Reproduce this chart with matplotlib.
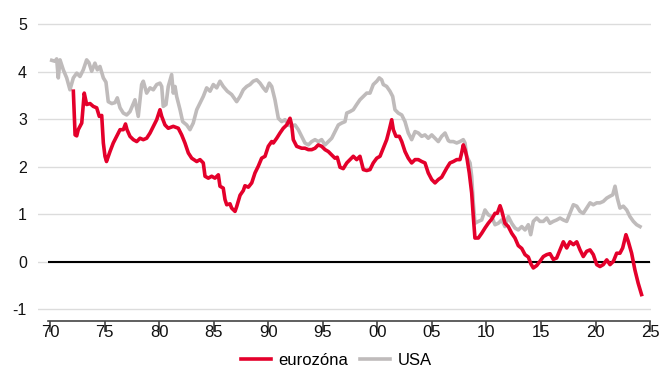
import matplotlib

matplotlib.use("Agg")

import matplotlib.pyplot as plt

plt.rcParams["font.family"] = ["Liberation Sans", "DejaVu Sans"]

# USA, decimal years and values
usa_years = [
    1970.16, 1970.46, 1970.61, 1970.76, 1970.92, 1971.22, 1971.53, 1971.83,
    1972.14, 1972.45, 1972.75, 1973.05, 1973.36, 1973.57, 1973.82, 1974.12,
    1974.34, 1974.58, 1974.89, 1975.13, 1975.34, 1975.66, 1975.96, 1976.17,
    1976.42, 1976.72, 1977.03, 1977.33, 1977.79, 1978.09, 1978.40, 1978.55,
    1978.86, 1979.17, 1979.47, 1979.78, 1980.08, 1980.24, 1980.38, 1980.63,
    1980.84, 1981.15, 1981.30, 1981.46, 1981.61, 1981.92, 1982.16, 1982.53,
    1982.83, 1983.13, 1983.45, 1983.75, 1984.05, 1984.36, 1984.67, 1984.97,
    1985.28, 1985.58, 1985.88, 1986.25, 1986.65, 1987.11, 1987.42, 1987.72,
    1988.03, 1988.33, 1988.63, 1988.95, 1989.25, 1989.55, 1989.80, 1990.10,
    1990.32, 1990.62, 1990.93, 1991.24, 1991.54, 1991.84, 1992.15, 1992.46,
    1992.76, 1993.07, 1993.37, 1993.68, 1993.99, 1994.29, 1994.59, 1994.90,
    1995.21, 1995.51, 1995.82, 1996.12, 1996.43, 1996.74, 1997.04, 1997.20,
    1997.50, 1997.80, 1998.11, 1998.41, 1998.72, 1999.03, 1999.33, 1999.63,
    1999.95, 2000.18, 2000.40, 2000.55, 2000.86, 2001.16, 2001.41, 2001.62,
    2001.92, 2002.24, 2002.54, 2002.84, 2003.15, 2003.46, 2003.76, 2004.07,
    2004.37, 2004.67, 2004.99, 2005.29, 2005.59, 2005.90, 2006.21, 2006.51,
    2006.66, 2006.97, 2007.28, 2007.58, 2007.88, 2008.04, 2008.19, 2008.50,
    2008.65, 2008.80, 2008.95, 2009.26, 2009.57, 2009.87, 2010.17, 2010.49,
    2010.79, 2011.09, 2011.40, 2011.70, 2012.01, 2012.32, 2012.62, 2012.92,
    2013.24, 2013.54, 2013.84, 2014.06, 2014.30, 2014.61, 2014.91, 2015.22,
    2015.53, 2015.83, 2016.13, 2016.44, 2016.75, 2017.05, 2017.36, 2017.66,
    2017.97, 2018.28, 2018.58, 2018.88, 2019.19, 2019.50, 2019.80, 2020.11,
    2020.41, 2020.71, 2021.03, 2021.33, 2021.58, 2021.79, 2022.00, 2022.24,
    2022.55, 2022.86, 2023.16, 2023.47, 2023.77, 2024.08,
]
usa_values = [
    4.24, 4.22, 4.27, 3.87, 4.25, 4.04, 3.87, 3.62,
    3.87, 3.97, 3.90, 4.04, 4.25, 4.19, 4.01, 4.18,
    4.04, 4.11, 3.87, 3.78, 3.37, 3.33, 3.35, 3.45,
    3.24, 3.13, 3.09, 3.16, 3.41, 3.06, 3.73, 3.80,
    3.55, 3.66, 3.62, 3.73, 3.76, 3.69, 3.27, 3.31,
    3.69, 3.94, 3.55, 3.69, 3.48, 3.20, 2.95, 2.88,
    2.78, 2.92, 3.20, 3.34, 3.48, 3.66, 3.59, 3.73,
    3.66, 3.80, 3.69, 3.59, 3.52, 3.37, 3.48, 3.62,
    3.69, 3.73, 3.80, 3.83, 3.76, 3.66, 3.59, 3.76,
    3.69, 3.41, 3.02, 2.95, 2.99, 2.88, 2.85, 2.88,
    2.78, 2.64, 2.50, 2.46, 2.53, 2.57, 2.53, 2.57,
    2.46, 2.53, 2.60, 2.74, 2.88, 2.92, 2.95, 3.13,
    3.16, 3.20, 3.31, 3.41, 3.48, 3.55, 3.55, 3.73,
    3.80, 3.87, 3.83, 3.73, 3.69, 3.59, 3.48, 3.20,
    3.13, 3.09, 2.95, 2.71, 2.57, 2.74, 2.71, 2.64,
    2.67, 2.60, 2.67, 2.60, 2.53, 2.64, 2.71, 2.55,
    2.53, 2.53, 2.50, 2.53, 2.57, 2.50, 2.22, 2.08,
    1.80, 1.24, 0.81, 0.85, 0.88, 1.09, 0.99, 0.95,
    0.78, 0.81, 0.88, 0.74, 0.95, 0.81, 0.71, 0.67,
    0.74, 0.67, 0.78, 0.57, 0.85, 0.92, 0.85, 0.85,
    0.92, 0.81, 0.85, 0.88, 0.92, 0.88, 0.85, 1.02,
    1.20, 1.17, 1.06, 1.02, 1.13, 1.24, 1.20, 1.24,
    1.24, 1.27, 1.34, 1.38, 1.41, 1.59, 1.34, 1.13,
    1.17, 1.09, 0.95, 0.85, 0.78, 0.74,
]

# eurozone, decimal years and values
ez_years = [
    1972.14, 1972.30, 1972.45, 1972.59, 1972.91, 1973.14, 1973.36, 1973.67,
    1973.97, 1974.28, 1974.52, 1974.74, 1974.89, 1975.04, 1975.18, 1975.50,
    1975.80, 1976.11, 1976.42, 1976.72, 1976.92, 1977.06, 1977.33, 1977.64,
    1977.95, 1978.25, 1978.55, 1978.86, 1979.17, 1979.47, 1979.78, 1980.08,
    1980.24, 1980.54, 1980.84, 1981.30, 1981.76, 1982.07, 1982.37, 1982.68,
    1982.99, 1983.45, 1983.75, 1984.05, 1984.21, 1984.51, 1984.82, 1985.12,
    1985.43, 1985.58, 1985.88, 1986.04, 1986.20, 1986.50, 1986.65, 1986.96,
    1987.11, 1987.42, 1987.72, 1987.87, 1988.18, 1988.49, 1988.79, 1989.09,
    1989.40, 1989.71, 1990.01, 1990.32, 1990.47, 1990.78, 1991.08, 1991.38,
    1991.70, 1992.00, 1992.15, 1992.30, 1992.61, 1993.07, 1993.37, 1993.68,
    1993.99, 1994.29, 1994.59, 1994.90, 1995.21, 1995.51, 1995.82, 1996.12,
    1996.33, 1996.58, 1996.88, 1997.20, 1997.50, 1997.80, 1998.11, 1998.41,
    1998.72, 1999.03, 1999.33, 1999.63, 1999.95, 2000.25, 2000.55, 2000.86,
    2001.10, 2001.32, 2001.47, 2001.71, 2002.02, 2002.24, 2002.54, 2002.84,
    2003.15, 2003.46, 2003.76, 2004.07, 2004.37, 2004.67, 2004.99, 2005.29,
    2005.59, 2005.90, 2006.36, 2006.66, 2006.97, 2007.28, 2007.58, 2007.73,
    2007.88, 2008.04, 2008.19, 2008.43, 2008.65, 2008.80, 2008.95, 2009.26,
    2009.57, 2009.87, 2010.17, 2010.49, 2010.79, 2011.00, 2011.25, 2011.40,
    2011.70, 2012.01, 2012.32, 2012.62, 2012.92, 2013.24, 2013.54, 2013.84,
    2014.09, 2014.30, 2014.61, 2014.91, 2015.22, 2015.53, 2015.83, 2016.13,
    2016.44, 2016.75, 2017.05, 2017.36, 2017.66, 2017.97, 2018.28, 2018.58,
    2018.88, 2019.19, 2019.50, 2019.80, 2020.11, 2020.41, 2020.71, 2021.03,
    2021.33, 2021.64, 2021.94, 2022.24, 2022.49, 2022.79, 2023.00, 2023.31,
    2023.61, 2023.91, 2024.22,
]
ez_values = [
    3.59, 2.67, 2.65, 2.78, 2.92, 3.55, 3.31, 3.33,
    3.27, 3.24, 3.06, 3.08, 2.50, 2.22, 2.11, 2.32,
    2.50, 2.64, 2.78, 2.78, 2.90, 2.78, 2.64, 2.57,
    2.53, 2.60, 2.57, 2.60, 2.71, 2.85, 2.99, 3.20,
    3.06, 2.88, 2.81, 2.85, 2.81, 2.67, 2.50, 2.29,
    2.18, 2.11, 2.15, 2.08, 1.80, 1.76, 1.80, 1.76,
    1.83, 1.59, 1.55, 1.31, 1.20, 1.22, 1.13, 1.06,
    1.16, 1.40, 1.50, 1.60, 1.57, 1.66, 1.87, 2.01,
    2.18, 2.22, 2.43, 2.53, 2.50, 2.60, 2.71, 2.81,
    2.88, 3.02, 2.88, 2.57, 2.43, 2.39, 2.39, 2.36,
    2.36, 2.39, 2.46, 2.43, 2.36, 2.32, 2.25, 2.18,
    2.20, 1.99, 1.96, 2.08, 2.15, 2.22, 2.15, 2.22,
    1.94, 1.92, 1.94, 2.08, 2.18, 2.22, 2.39, 2.57,
    2.78, 2.99, 2.78, 2.64, 2.64, 2.53, 2.32, 2.18,
    2.08, 2.15, 2.15, 2.11, 2.08, 1.87, 1.73, 1.66,
    1.73, 1.78, 1.97, 2.08, 2.11, 2.15, 2.15, 2.29,
    2.46, 2.36, 2.22, 1.87, 1.45, 0.95, 0.50, 0.50,
    0.60, 0.71, 0.81, 0.90, 1.02, 1.02, 1.18, 1.08,
    0.81, 0.74, 0.60, 0.50, 0.34, 0.28, 0.15, 0.10,
    -0.05, -0.13, -0.08, 0.01, 0.11, 0.15, 0.17, 0.05,
    0.08, 0.25, 0.42, 0.29, 0.42, 0.36, 0.42, 0.25,
    0.11, 0.22, 0.25, 0.15, -0.06, -0.10, -0.06, 0.04,
    -0.06, 0.01, 0.18, 0.18, 0.29, 0.57, 0.43, 0.18,
    -0.17, -0.45, -0.69,
]

x_ticks = [1970, 1975, 1980, 1985, 1990, 1995, 2000, 2005, 2010, 2015, 2020, 2025]
x_labels = ["70", "75", "80", "85", "90", "95", "00", "05", "10", "15", "20", "25"]
y_ticks = [-1, 0, 1, 2, 3, 4, 5]

RED = "#e4002b"
GREY = "#bfbbbb"

fig = plt.figure(figsize=(6.7, 3.7), dpi=100)
ax = fig.add_axes([0.0567, 0.132, 0.915, 0.809])

ax.set_xlim(1968.9, 2025.09)
ax.set_ylim(-1.25, 5.05)

ax.set_yticks(y_ticks)
ax.set_yticklabels([str(v) for v in y_ticks])
ax.grid(axis="y", color="#dcdcdc", linewidth=1.0)
ax.set_axisbelow(True)

ax.hlines(0, 1969.82, 2025.0, color="black", linewidth=1.5, zorder=2)

ax.plot(usa_years, usa_values, color=GREY, linewidth=2.6, label="USA", zorder=3)
ax.plot(ez_years, ez_values, color=RED, linewidth=2.6, label="eurozóna", zorder=4)

ax.set_xticks(x_ticks)
ax.set_xticklabels(x_labels)

for side in ["top", "right", "left"]:
    ax.spines[side].set_visible(False)

ax.spines["bottom"].set_bounds(1969.82, 2025.0)
ax.spines["bottom"].set_color("#444444")
ax.spines["bottom"].set_linewidth(1.2)

ax.tick_params(axis="y", length=0, pad=8, labelsize=11.5, labelcolor="#111111")
ax.tick_params(
    axis="x",
    direction="out",
    length=8,
    width=1.2,
    color="#444444",
    pad=-5,
    labelsize=12,
    labelcolor="#111111",
)

handles, labels = ax.get_legend_handles_labels()
fig.legend(
    handles[::-1],
    labels[::-1],
    loc="center",
    bbox_to_anchor=(0.502, 0.025),
    ncol=2,
    frameon=False,
    fontsize=12,
    handlelength=1.8,
    handletextpad=0.45,
    columnspacing=0.7,
)

fig.savefig("out.png", dpi=100)
plt.close(fig)
